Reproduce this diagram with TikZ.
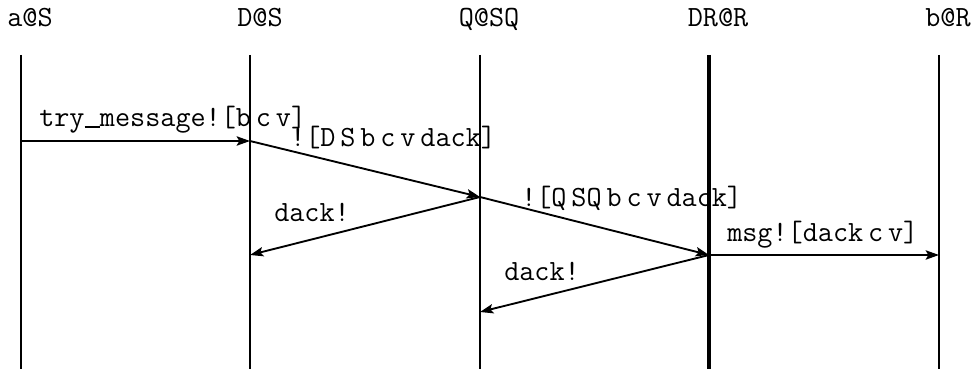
\documentclass[tikz,border=0pt]{standalone}
\usepackage{fontspec}
\usetikzlibrary{arrows.meta}
\newcommand{\lowbar}{\rule[-0.6pt]{0.525em}{1.1pt}}
\begin{document}
\begin{tikzpicture}[x=0.75pt,y=-0.75pt]
\tikzset{
  txt/.style={font=\ttfamily\fontsize{22}{26}\selectfont, inner sep=0pt},
  head/.style={txt, anchor=base},
  lbl/.style={txt, anchor=base west},
  life/.style={line width=1.5pt},
  thicklife/.style={line width=2.3pt},
  msgarrow/.style={line width=1.4pt, -{Stealth[length=10pt,width=7pt,inset=2pt]}}
}
\useasboundingbox (0,0) rectangle (978,374);
% headers
\node[head] (ha) at (30,27) {a@S};
\node[head] (hd) at (260,27) {D@S};
\node[head] (hq) at (489,27) {Q@SQ};
\node[head] (hr) at (718,27) {DR@R};
\node[head] (hb) at (948,27) {b@R};
% lifeline ends
\coordinate (at) at (21,55);  \coordinate (ab) at (21,369);
\coordinate (dt) at (250,55); \coordinate (db) at (250,369);
\coordinate (qt) at (480,55); \coordinate (qb) at (480,369);
\coordinate (rt) at (709,55); \coordinate (rb) at (709,369);
\coordinate (bt) at (939,55); \coordinate (bb) at (939,369);
\draw[life] (at) -- (ab);
\draw[life] (dt) -- (db);
\draw[life] (qt) -- (qb);
\draw[thicklife] (rt) -- (rb);
\draw[life] (bt) -- (bb);
% events
\coordinate (e1) at (21,141);
\coordinate (e2) at (250,141);
\coordinate (e3) at (480,197);
\coordinate (e4) at (250,255);
\coordinate (e5) at (709,255);
\coordinate (e6) at (939,255);
\coordinate (e7) at (480,312);
\draw[msgarrow] (e1) -- (e2);
\draw[msgarrow] (e2) -- (e3);
\draw[msgarrow] (e3) -- (e4);
\draw[msgarrow] (e3) -- (e5);
\draw[msgarrow] (e5) -- (e6);
\draw[msgarrow] (e5) -- (e7);
% labels
\node[lbl] (l1) at (39,127) {try\lowbar message![b\,c\,v]};
\node[lbl] (l2) at (290,147) {![D\,S\,b\,c\,v\,dack]};
\node[lbl] (l3) at (274,221) {dack!};
\node[lbl] (l4) at (521,206) {![Q\,SQ\,b\,c\,v\,dack]};
\node[lbl] (l5) at (727,241) {msg![dack\,c\,v]};
\node[lbl] (l6) at (504,280) {dack!};
\end{tikzpicture}
\end{document}
